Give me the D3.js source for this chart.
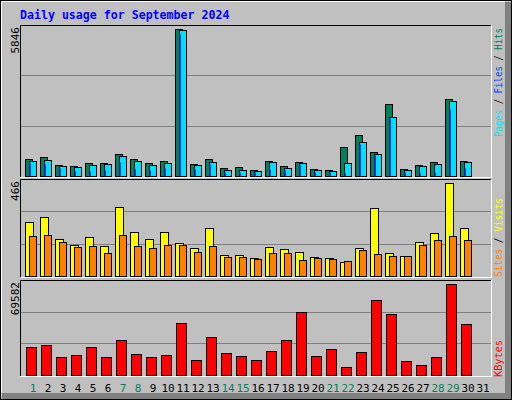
<!DOCTYPE html>
<html><head><meta charset="utf-8">
<script src="https://cdn.jsdelivr.net/npm/d3@7"></script>
<style>body{margin:0;background:#fff}</style>
</head><body>
<script>
// daily values
var days = d3.range(1, 32);
var weekend = [1, 7, 8, 14, 15, 21, 22, 28, 29];
var hits = [665,757,438,398,506,506,865,665,506,586,5846,478,665,307,347,239,586,387,546,267,227,1156,1622,944,2857,267,426,546,3056,586,0];
var files = [586,626,387,347,426,466,785,586,426,506,5806,426,546,227,227,211,546,307,506,227,187,506,1343,865,2339,227,387,466,2977,546,0];
var pages = [518,466,319,199,199,239,546,279,239,319,5659,279,478,159,159,159,279,239,478,159,159,120,1263,825,2299,159,120,159,2658,307,0];
var visits = [270,295,185,154,195,149,346,220,185,220,164,139,240,104,104,89,144,134,119,94,89,69,139,341,114,99,170,215,466,240,0];
var sites = [200,205,170,144,149,114,205,149,139,154,154,119,149,94,94,84,114,114,79,89,84,74,129,109,99,99,154,180,200,180,0];
var kbytes = [21600,23100,14000,15500,21600,14000,26900,16300,14000,15500,39900,11700,29200,17000,14800,11700,18600,26900,48200,14800,20100,6400,17800,57400,46700,11000,7900,14000,69582,39100,0];

var W = 512, H = 400;
var svg = d3.select("body").append("svg").attr("width", W).attr("height", H);
var mono = "DejaVu Sans Mono, monospace";

// outer frame with bevel
svg.append("rect").attr("x", 0).attr("y", 0).attr("width", W).attr("height", H).attr("fill", "#C0C0C0");
svg.append("rect").attr("x", 505).attr("y", 2).attr("width", 6).attr("height", 397).attr("fill", "#808080");
svg.append("rect").attr("x", 2).attr("y", 393).attr("width", 509).attr("height", 6).attr("fill", "#808080");
svg.append("path").attr("d", "M1.5,393V1.5H505").attr("stroke", "#fff").attr("fill", "none");
svg.append("rect").attr("x", 0.5).attr("y", 0.5).attr("width", W - 1).attr("height", H - 1).attr("fill", "none").attr("stroke", "#000");

svg.append("text").attr("x", 20).attr("y", 19).attr("fill", "#0000FF")
  .style("font", "bold 11.6px " + mono).text("Daily usage for September 2024");

var x = d3.scaleLinear().domain([1, 31]).range([25, 475]);

function panel(top, bottom, max) {
  // box: black top/left, white bottom/right
  svg.append("path").attr("d", "M20.5," + bottom + "V" + (top + 0.5) + "H491").attr("stroke", "#000").attr("fill", "none");
  svg.append("path").attr("d", "M20," + (bottom + 0.5) + "H491.5V" + top).attr("stroke", "#fff").attr("fill", "none");
  var y = d3.scaleLinear().domain([0, max]).range([bottom - 1, top + 4]);
  var g = d3.scaleLinear().domain([0, 3]).range([bottom - 1, top]);
  svg.append("g").selectAll("line").data([1, 2]).enter().append("line")
    .attr("x1", 21).attr("x2", 491)
    .attr("y1", function (d) { return Math.round(g(d)) + 0.5; })
    .attr("y2", function (d) { return Math.round(g(d)) + 0.5; })
    .attr("stroke", "#808080");
  svg.append("text").attr("transform", "translate(19," + (top + 2) + ") rotate(-90)")
    .attr("text-anchor", "end").style("font", "11px " + mono).attr("fill", "#000")
    .text(max);
  return y;
}

function bars(y, data, dx, w, color, stroke) {
  var base = y(0);
  svg.append("g").selectAll("rect").data(data).enter().append("rect")
    .filter(function (d) { return d > 0; })
    .attr("x", function (d, i) { return x(i + 1) + dx + 0.5; })
    .attr("y", function (d) { return Math.round(y(d)) + 0.5; })
    .attr("width", w)
    .attr("height", function (d) { return Math.max(0, base - Math.round(y(d))); })
    .attr("fill", color).attr("stroke", stroke ? "#000" : "none");
}

var y1 = panel(25, 177, 5846);
bars(y1, hits, 0, 7, "#00805C", true);
bars(y1, files, 4, 7, "#00E0FF", true);
bars(y1, pages, 4, 1.5, "#0040FF", false);

var y2 = panel(179, 277, 466);
bars(y2, visits, 0, 8, "#FFFF00", true);
bars(y2, sites, 4, 7, "#FF8000", true);

var y3 = panel(280, 376, 69582);
bars(y3, kbytes, 1, 10, "#FF0000", true);

// day labels
svg.append("g").selectAll("text").data(days).enter().append("text")
  .attr("x", function (d) { return x(d) + 8; }).attr("y", 392)
  .attr("text-anchor", "middle").style("font", "11px " + mono)
  .attr("fill", function (d) { return weekend.indexOf(d) >= 0 ? "#00805C" : "#000"; })
  .text(function (d) { return d; });

// right-side legends, reading upward
function legend(yStart, len, parts) {
  var t = svg.append("text").attr("transform", "translate(502," + yStart + ") rotate(-90)")
    .style("font", "10px " + mono).attr("textLength", len).attr("lengthAdjust", "spacingAndGlyphs");
  parts.forEach(function (p) {
    t.append("tspan").attr("fill", p[1]).text(p[0]);
  });
}
legend(137, 109, [["Pages", "#00E0FF"], [" / ", "#000"], ["Files", "#0040FF"], [" / ", "#000"], ["Hits", "#00805C"]]);
legend(277, 79, [["Sites", "#FF8000"], [" / ", "#000"], ["Visits", "#FFFF00"]]);
legend(377, 37, [["KBytes", "#FF0000"]]);
</script>
</body></html>
